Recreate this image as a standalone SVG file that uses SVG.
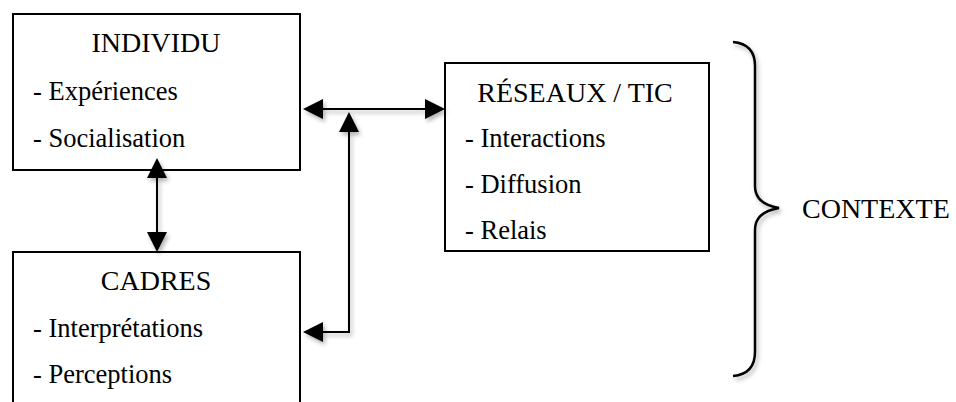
<svg xmlns="http://www.w3.org/2000/svg" width="956" height="402" viewBox="0 0 956 402">
<style>
.box{fill:#fff;stroke:#000;stroke-width:2}
text{fill:#000}
.t{font-size:28px}
.b{font-size:26.5px}
.c{fill:none;stroke:#000;stroke-width:2}
</style>
<defs>
<filter id="sh" x="-30%" y="-30%" width="160%" height="160%">
<feDropShadow dx="2" dy="3" stdDeviation="2" flood-color="#000" flood-opacity="0.3"/>
</filter>
<marker id="ah" viewBox="0 0 20 20" refX="0" refY="10" markerWidth="20" markerHeight="20" markerUnits="userSpaceOnUse" orient="auto-start-reverse">
<path d="M0,0 L20,10 L0,20 z" fill="#000"/>
</marker>
</defs>
<rect width="956" height="402" fill="#fff"/>
<g font-family="'Liberation Serif', 'DejaVu Serif', serif">
<g id="individu">
<rect class="box" x="13" y="14" width="287" height="156"/>
<text class="t" x="156" y="52" text-anchor="middle">INDIVIDU</text>
<text class="b" x="33" y="100">- Expériences</text>
<text class="b" x="33" y="147">- Socialisation</text>
</g>
<g id="cadres">
<rect class="box" x="13" y="252" width="287" height="170"/>
<text class="t" x="156" y="290" text-anchor="middle">CADRES</text>
<text class="b" x="33" y="337">- Interprétations</text>
<text class="b" x="33" y="383">- Perceptions</text>
</g>
<g id="reseaux">
<rect class="box" x="445" y="63" width="264" height="188"/>
<text class="t" x="575" y="102" text-anchor="middle">RÉSEAUX / TIC</text>
<text class="b" x="465" y="147">- Interactions</text>
<text class="b" x="465" y="193">- Diffusion</text>
<text class="b" x="465" y="239">- Relais</text>
</g>
<g id="connectors" filter="url(#sh)">
<line class="c" x1="157" y1="178" x2="157" y2="232" marker-start="url(#ah)" marker-end="url(#ah)"/>
<line class="c" x1="323" y1="109" x2="425" y2="109" marker-start="url(#ah)" marker-end="url(#ah)"/>
<path class="c" d="M349,132 L349,332 L323,332" marker-start="url(#ah)" marker-end="url(#ah)"/>
</g>
<g id="contexte">
<path d="M733,42 Q755,44 755,66 L755,186 Q755,204 779,208 Q755,212 755,230 L755,352 Q755,374 733,376" fill="none" stroke="#000" stroke-width="2.5" filter="url(#sh)"/>
<text class="t" x="802" y="218">CONTEXTE</text>
</g>
</g>
</svg>
